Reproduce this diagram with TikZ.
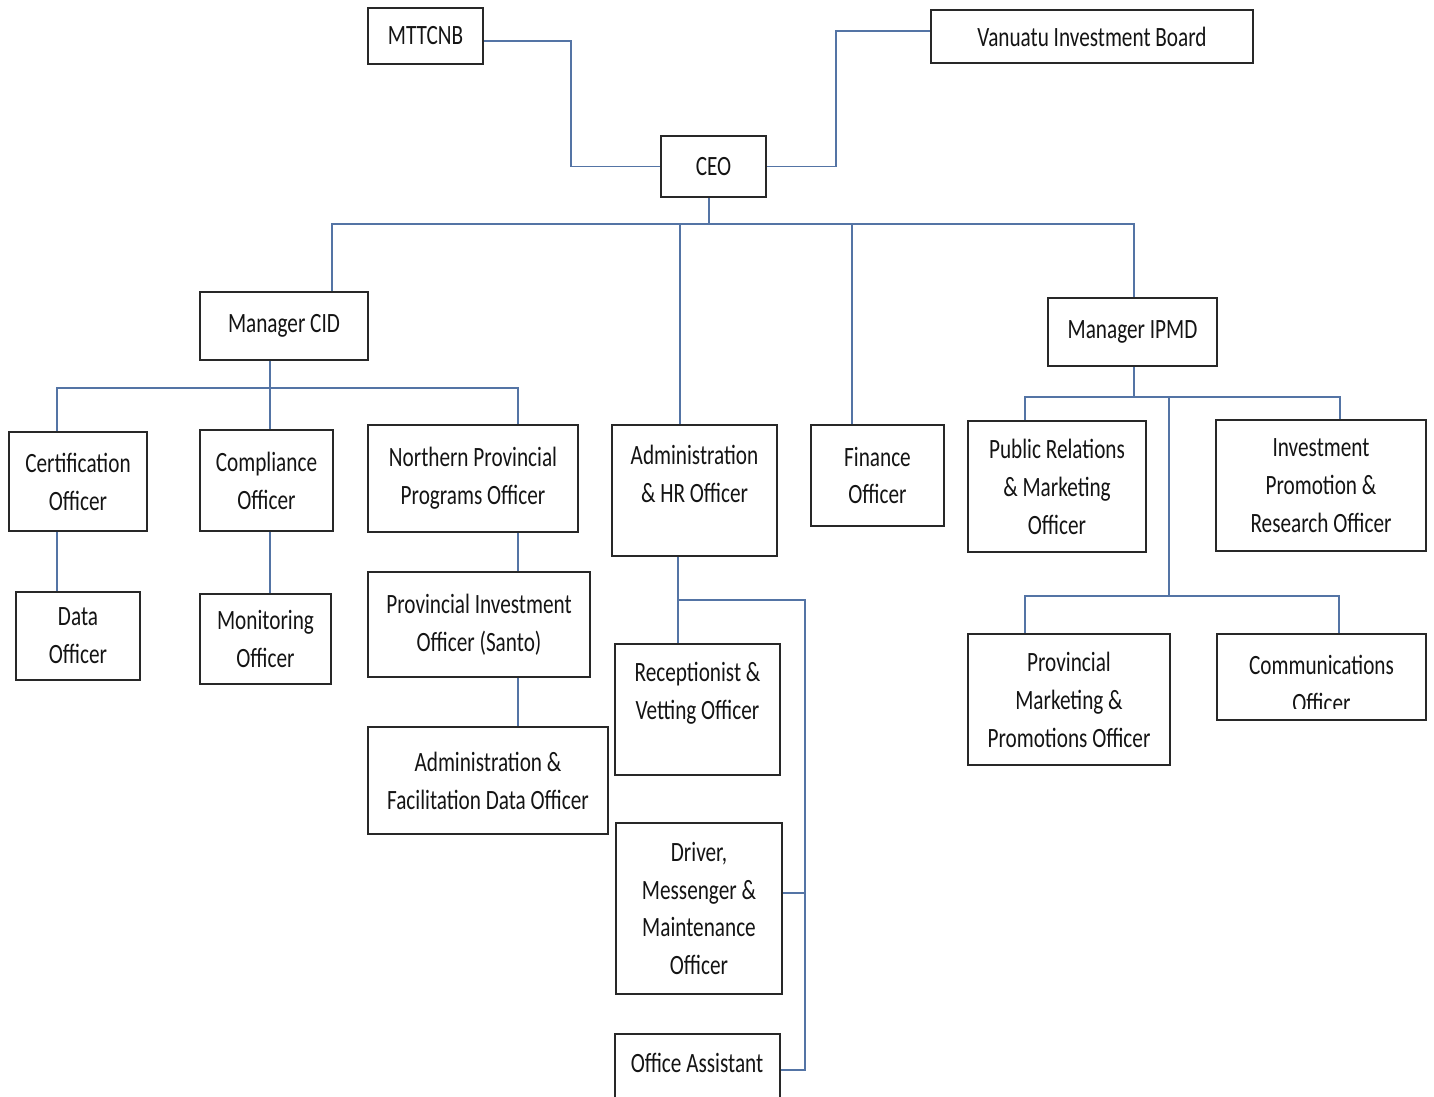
\documentclass[tikz,border=0pt]{standalone}
\usepackage{fontspec}
\setmainfont{Carlito}[FakeStretch=0.76]
\usetikzlibrary{fit}
\definecolor{lineblue}{RGB}{84,116,165}
\definecolor{boxedge}{RGB}{40,40,40}
\definecolor{txt}{RGB}{20,20,20}
\tikzset{
  box/.style={draw=boxedge, line width=1.1pt, inner sep=0pt},
  lbl/.style={inner sep=0pt, align=center, font=\fontsize{15.9}{21.6}\selectfont, text=txt},
  conn/.style={draw=lineblue, line width=0.85pt},
}
\newcommand\obox[4]{\node[box, fit={#2 #3}] (#1) {};
  \node[lbl] (#1t) at (#1.center) {#4};}
\begin{document}
\begin{tikzpicture}[x=0.02cm,y=-0.02cm]
\useasboundingbox (0,0) rectangle (1434,1097);
\fill[white] (0,0) rectangle (1434,1097);

% top
\obox{mtt}{(368,8)}{(483,64)}{MTTCNB}
\obox{vib}{(931,10)}{(1253,63)}{Vanuatu Investment Board}
\obox{ceo}{(661,136)}{(766,197)}{CEO}

% managers and direct reports
\obox{cid}{(200,292)}{(368,360)}{Manager CID}
\obox{ipmd}{(1048,298)}{(1217,366)}{Manager IPMD}
\node[box, fit={(612,425) (777,556)}] (adm) {};
\node[lbl] (admt) at (694.5,474) {Administration\\\& HR Officer};
\obox{fin}{(811,425)}{(944,526)}{Finance\\Officer}

% CID branch
\obox{cert}{(9,432)}{(147,531)}{Certification\\Officer}
\obox{comp}{(200,430)}{(333,531)}{Compliance\\Officer}
\obox{npo}{(368,425)}{(578,532)}{Northern Provincial\\Programs Officer}
\obox{data}{(16,592)}{(140,680)}{Data\\Officer}
\obox{mon}{(200,594)}{(331,684)}{Monitoring\\Officer}
\obox{pio}{(368,572)}{(590,677)}{Provincial Investment\\Officer (Santo)}
\obox{afd}{(368,727)}{(608,834)}{Administration \&\\Facilitation Data Officer}

% Admin branch
\node[box, fit={(615,644) (780,775)}] (rec) {};
\node[lbl] (rect) at (697.5,693) {Receptionist \&\\Vetting Officer};
\obox{drv}{(616,823)}{(782,994)}{Driver,\\Messenger \&\\Maintenance\\Officer}
\node[box, fit={(615,1034) (780,1125)}] (oa) {};
\node[lbl] (oat) at (697,1063) {Office Assistant};

% IPMD branch
\obox{pr}{(968,421)}{(1146,552)}{Public Relations\\\& Marketing\\Officer}
\obox{ipr}{(1216,420)}{(1426,551)}{Investment\\Promotion \&\\Research Officer}
\obox{pmp}{(968,634)}{(1170,765)}{Provincial\\Marketing \&\\Promotions Officer}
\node[box, fit={(1217,634) (1426,720)}] (com) {};
\begin{scope}
  \clip (1217,634) rectangle (1426,709);
  \node[lbl] (comt) at (1321.5,684) {Communications\\Officer};
\end{scope}

% connectors: top
\coordinate (m1) at (571,41);
\coordinate (v1) at (836,31);
\draw[conn] (mtt.east |- m1) -- (m1) |- (ceo.west);
\draw[conn] (vib.west |- v1) -- (v1) |- (ceo.east);

% CEO bus
\coordinate (b0) at (709,224);
\coordinate (b1) at (332,224);
\coordinate (b2) at (1134,224);
\coordinate (b3) at (680,224);
\coordinate (b4) at (852,224);
\draw[conn] (ceo.south -| b0) -- (b0);
\draw[conn] (cid.north -| b1) -- (b1) -- (b2) -- (ipmd.north -| b2);
\draw[conn] (b3) -- (adm.north -| b3);
\draw[conn] (b4) -- (fin.north -| b4);

% CID connectors
\coordinate (k1) at (57,388);
\coordinate (k2) at (270,388);
\coordinate (k3) at (518,388);
\draw[conn] (cid.south -| k2) -- (k2);
\draw[conn] (cert.north -| k1) -- (k1) -- (k3) -- (npo.north -| k3);
\draw[conn] (k2) -- (comp.north -| k2);
\draw[conn] (cert.south -| k1) -- (data.north -| k1);
\draw[conn] (comp.south -| k2) -- (mon.north -| k2);
\draw[conn] (npo.south -| k3) -- (pio.north -| k3);
\draw[conn] (pio.south -| k3) -- (afd.north -| k3);

% Admin connectors
\coordinate (a1) at (678,600);
\coordinate (a2) at (805,600);
\coordinate (a3) at (805,893);
\coordinate (a4) at (805,1070);
\draw[conn] (adm.south -| a1) -- (a1) -- (a2) -- (a4) -- (oa.east |- a4);
\draw[conn] (a1) -- (rec.north -| a1);
\draw[conn] (a3) -- (drv.east |- a3);

% IPMD connectors
\coordinate (p0) at (1134,397);
\coordinate (p1) at (1025,397);
\coordinate (p2) at (1340,397);
\coordinate (p3) at (1169,397);
\coordinate (p4) at (1169,596);
\coordinate (p5) at (1025,596);
\coordinate (p6) at (1339,596);
\draw[conn] (ipmd.south -| p0) -- (p0);
\draw[conn] (pr.north -| p1) -- (p1) -- (p2) -- (ipr.north -| p2);
\draw[conn] (p3) -- (p4);
\draw[conn] (pmp.north -| p5) -- (p5) -- (p6) -- (com.north -| p6);
\end{tikzpicture}
\end{document}
